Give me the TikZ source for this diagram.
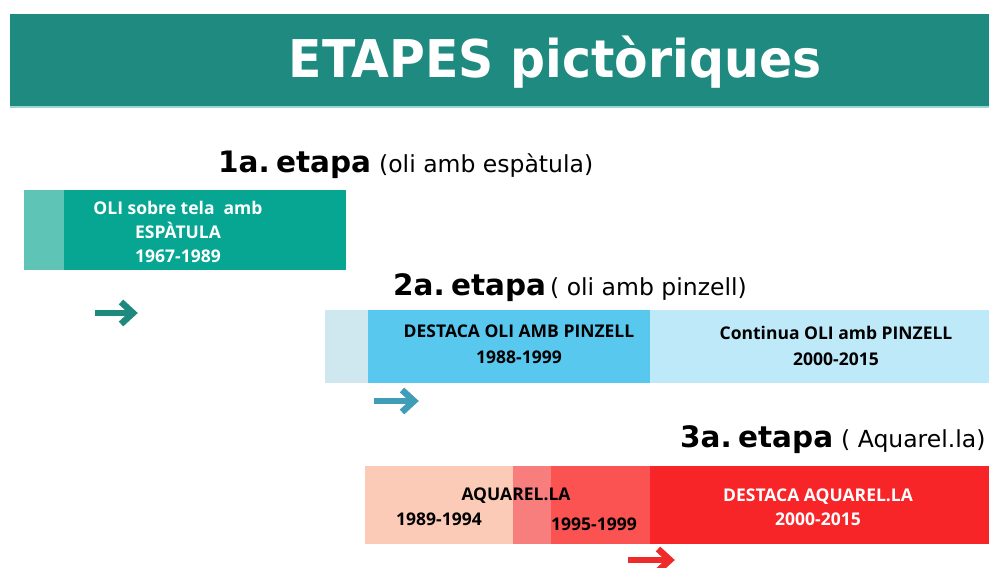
\documentclass[tikz,border=0pt]{standalone}
\usepackage{fontspec}
\setmainfont{Open Sans}
\newfontfamily\headfont{DejaVu Sans}
\usetikzlibrary{calc}
\definecolor{hdr}{HTML}{1F8A80}
\definecolor{hdrline}{HTML}{9ED6CF}
\definecolor{tealA}{HTML}{5EC4B6}
\definecolor{tealB}{HTML}{06A693}
\definecolor{arrA}{HTML}{1E8A7E}
\definecolor{blueA}{HTML}{CFE8EF}
\definecolor{blueB}{HTML}{58C8EE}
\definecolor{blueC}{HTML}{BEE9F8}
\definecolor{arrB}{HTML}{3F9DB8}
\definecolor{redA}{HTML}{FCCBB7}
\definecolor{redB}{HTML}{F87E7E}
\definecolor{redC}{HTML}{FB5252}
\definecolor{redD}{HTML}{F72428}
\definecolor{arrC}{HTML}{EE2A2A}
\newcommand{\hsp}{\kern-4pt\ }
\tikzset{
  boxtxt/.style={font=\fontsize{17.5}{24}\selectfont\bfseries, align=center, inner sep=0pt},
  headnum/.style={font=\headfont\fontsize{29.5}{31}\selectfont\bfseries, anchor=base west, inner sep=0pt},
  headsub/.style={font=\headfont\fontsize{23.5}{25}\selectfont, anchor=base west, inner sep=0pt},
  chev/.style={line width=6.5pt, line join=miter, line cap=butt}
}
\begin{document}
\begin{tikzpicture}[x=1pt,y=-1pt]
\useasboundingbox (0,0) rectangle (989,568);
% header
\fill[hdr] (10,14) rectangle (989,106);
\fill[hdrline] (10,106) rectangle (989,108);
\node[font=\headfont\fontsize{52}{54}\selectfont\bfseries, text=white, inner sep=0pt, xscale=0.94] (title) at (555,62) {ETAPES pictòriques};
% stage 1
\node[headnum] (h1) at (218,172) {1a.\hsp etapa};
\node[headsub] (s1) at (379,172) {(oli amb espàtula)};
\fill[tealA] (24,190) rectangle (64,270);
\fill[tealB] (64,190) rectangle (346,270);
\node[boxtxt, text=white] (b1) at (178,232) {OLI sobre tela \ amb\\ESPÀTULA\\1967-1989};
\coordinate (a1s) at (95,313);
\coordinate (a1e) at (133,313);
\draw[chev, arrA] (a1s) -- (a1e);
\draw[chev, arrA] ($(a1e)+(-12,-11)$) -- (a1e) -- ($(a1e)+(-12,11)$);
% stage 2
\node[headnum] (h2) at (393,295) {2a.\hsp etapa};
\node[headsub] (s2) at (550,295) {( oli amb pinzell)};
\fill[blueA] (325,310) rectangle (368,383);
\fill[blueB] (368,310) rectangle (650,383);
\fill[blueC] (650,310) rectangle (989,383);
\node[boxtxt, font=\fontsize{17.5}{26}\selectfont\bfseries] (b2a) at (519,344) {DESTACA OLI AMB PINZELL\\1988-1999};
\node[boxtxt, font=\fontsize{17.5}{26}\selectfont\bfseries] (b2b) at (836,346) {Continua OLI amb PINZELL\\2000-2015};
\coordinate (a2s) at (374,401);
\coordinate (a2e) at (414,401);
\draw[chev, arrB] (a2s) -- (a2e);
\draw[chev, arrB] ($(a2e)+(-12,-11)$) -- (a2e) -- ($(a2e)+(-12,11)$);
% stage 3
\node[headnum] (h3) at (680,447) {3a.\hsp etapa};
\node[headsub] (s3) at (841,447) {( Aquarel.la)};
\fill[redA] (365,466) rectangle (513,544);
\fill[redB] (513,466) rectangle (551,544);
\fill[redC] (551,466) rectangle (650,544);
\fill[redD] (650,466) rectangle (989,544);
\node[boxtxt] (t3a) at (516,496) {AQUAREL.LA};
\node[boxtxt] (t3b) at (439,519) {1989-1994};
\node[boxtxt] (t3c) at (594,524) {1995-1999};
\node[boxtxt, text=white] (b3d) at (818,507) {DESTACA AQUAREL.LA\\2000-2015};
\coordinate (a3s) at (628,560);
\coordinate (a3e) at (670,560);
\draw[chev, arrC] (a3s) -- (a3e);
\draw[chev, arrC] ($(a3e)+(-12,-11)$) -- (a3e) -- ($(a3e)+(-12,11)$);
\end{tikzpicture}
\end{document}
